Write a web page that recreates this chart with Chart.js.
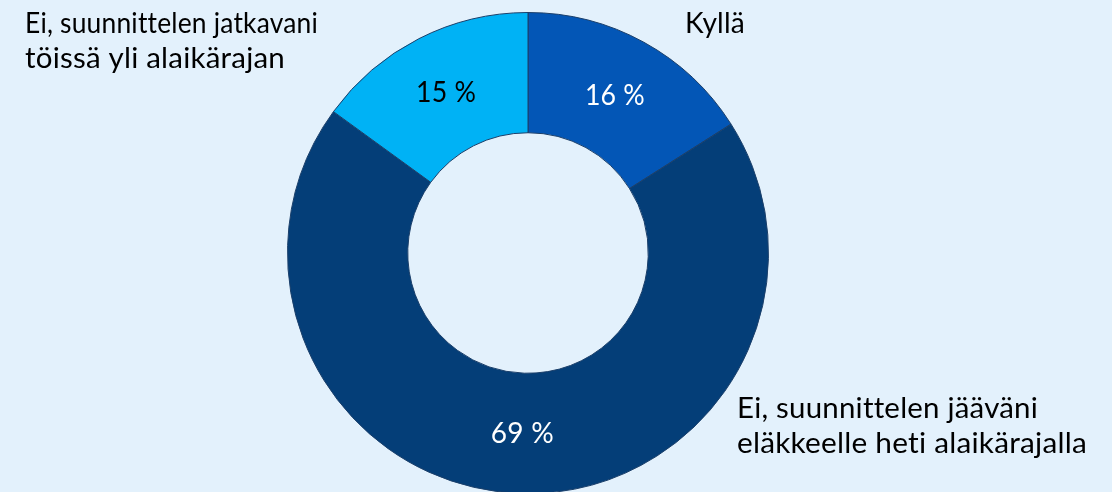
<!DOCTYPE html>
<html><head><meta charset="utf-8">
<script src="https://cdn.jsdelivr.net/npm/chart.js@4"></script>
<style>
html,body{margin:0;padding:0;background:#E3F1FC;overflow:hidden;width:1112px;height:492px}
#wrap{position:absolute;left:0;top:0;width:1112px;height:494px}
</style></head><body>
<div id="wrap"><canvas id="c"></canvas></div>
<script>
const categories = ["Kyllä", "Ei, suunnittelen jääväni eläkkeelle heti alaikärajalla", "Ei, suunnittelen jatkavani töissä yli alaikärajan"];
const categoryLines = [["Kyllä"], ["Ei, suunnittelen jääväni", "eläkkeelle heti alaikärajalla"], ["Ei, suunnittelen jatkavani", "töissä yli alaikärajan"]];
const values = [16, 69, 15];
const colors = ["#0356B6", "#043E78", "#00B2F5"];
const valueTextColors = ["#FFFFFF", "#FFFFFF", "#000000"];

const FONT = "Lato, 'Open Sans', sans-serif";

function fitText(ctx, text, x, y, width, align) {
  const w = ctx.measureText(text).width;
  const s = width / w;
  ctx.save();
  ctx.translate(x, y);
  ctx.scale(s, 1);
  ctx.textAlign = align || 'left';
  ctx.fillText(text, 0, 0);
  ctx.restore();
}

const labelPlugin = {
  id: 'labels',
  afterDatasetsDraw(chart) {
    const ctx = chart.ctx;
    const meta = chart.getDatasetMeta(0);
    ctx.save();
    ctx.textBaseline = 'alphabetic';
    ctx.font = "28px " + FONT;
    if ('letterSpacing' in ctx) ctx.letterSpacing = "0.2px";
    if ('fontVariantLigatures' in ctx) ctx.fontVariantLigatures = 'none';
    const valueWidths = [60, 63, 60];
    meta.data.forEach((arc, i) => {
      const p = arc.tooltipPosition();
      ctx.fillStyle = valueTextColors[i];
      fitText(ctx, values[i] + " %", p.x, p.y + 10, valueWidths[i], 'center');
    });
    ctx.fillStyle = "#000";
    const pos = [
      [{x:685,y:33,w:60}],
      [{x:737,y:418,w:301},{x:737,y:453,w:350}],
      [{x:25,y:33,w:293},{x:25,y:68,w:260}]
    ];
    categoryLines.forEach((lines, i) => {
      lines.forEach((ln, j) => {
        const q = pos[i][j];
        fitText(ctx, ln, q.x, q.y, q.w, 'left');
      });
    });
    ctx.restore();
  }
};

new Chart(document.getElementById('c'), {
  type: 'doughnut',
  data: {
    labels: categories,
    datasets: [{
      data: values,
      backgroundColor: colors,
      borderColor: "#1B3F6A",
      borderWidth: 1,
      hoverOffset: 0
    }]
  },
  options: {
    responsive: true,
    maintainAspectRatio: false,
    animation: false,
    cutout: '50%',
    layout: { padding: { left: 287, right: 343, top: 12, bottom: 0 } },
    plugins: { legend: { display: false }, tooltip: { enabled: false } }
  },
  plugins: [labelPlugin]
});
</script>
</body></html>
